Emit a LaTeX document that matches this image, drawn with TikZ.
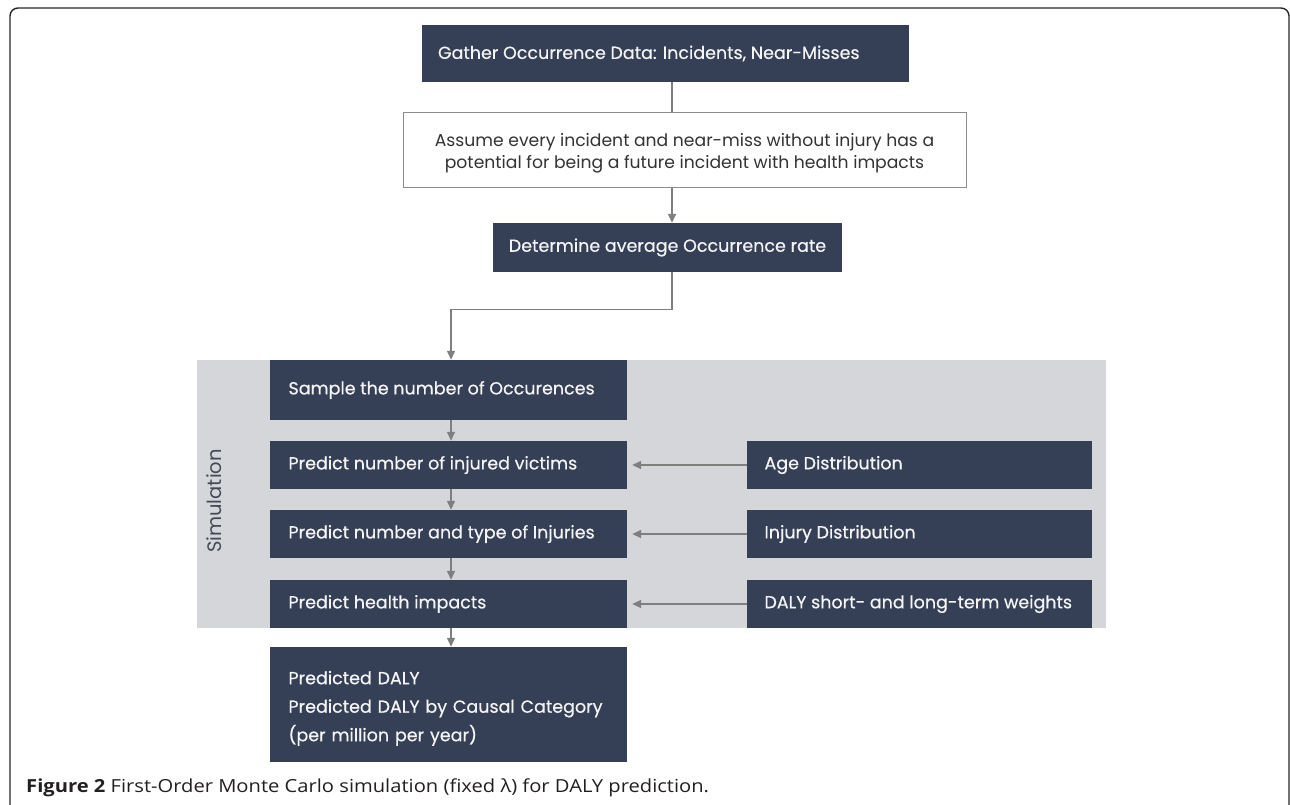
\documentclass[tikz,border=0pt]{standalone}
\usepackage{fontspec}
\setmainfont{Poppins}
\newfontfamily\boxfont{Poppins}[FakeBold=0.5]
\newfontfamily\capfont{Open Sans}
\usetikzlibrary{arrows.meta,positioning}
\definecolor{navy}{HTML}{353F55}
\definecolor{band}{HTML}{D5D6DA}
\definecolor{conn}{HTML}{7F7F7F}
\definecolor{boxtxt}{HTML}{F4F4F4}
\definecolor{simtxt}{HTML}{454A57}
\definecolor{captxt}{HTML}{231F20}
\newcommand{\lbox}[2]{\makebox[#1][l]{#2}}
\tikzset{
  dark/.style={fill=navy, draw=none, text=boxtxt, font=\boxfont\fontsize{17.5}{20}\selectfont, inner sep=0pt},
  leftbox/.style={dark, minimum width=357pt},
  rightbox/.style={dark, minimum width=345pt, minimum height=48pt},
  conn/.style={draw=conn, line width=1.4pt},
  arr/.style={conn, -{Triangle[width=8pt,length=9pt]}},
}
\begin{document}
\begin{tikzpicture}[x=1pt,y=-1pt]
\useasboundingbox (0,0) rectangle (1290,805);
% frame
\draw[line width=1.4pt, draw=black!85] (10,808) -- (10,16) arc[start angle=180,end angle=270,radius=8] -- (1281,8) arc[start angle=270,end angle=360,radius=8] -- (1289,808);
% simulation band
\fill[band] (197,360) rectangle (1106,628);
\node[rotate=90, text=simtxt, font=\fontsize{19.5}{22}\selectfont] (simlabel) at (214,501) {Simulation};
\coordinate (spine) at (672,0);
\coordinate (mid) at (451,0);
% top boxes
\node[dark, minimum width=487pt, minimum height=57pt] (gather) at (665.5,53.5) {\lbox{455pt}{Gather Occurrence Data: Incidents, Near-Misses}};
\node[draw=conn!90, line width=1pt, fill=white, minimum width=563pt, minimum height=75pt, align=center, text=black!80, inner sep=0pt, font=\fontsize{17.2}{22}\selectfont] (assume) at (684.5,150.5) {\rule{0pt}{19pt}Assume every incident and near-miss without injury has a\\potential for being a future incident with health impacts};
\node[dark, minimum width=349pt, minimum height=49pt, align=center] (determine) at (667.5,247.5) {Determine average Occurrence rate};
% left column
\node[leftbox, minimum height=60pt] (sample) at (448.5,390) {\lbox{320pt}{Sample the number of Occurences}};
\node[leftbox, minimum height=48pt] (victims) at (448.5,465) {\lbox{320pt}{Predict number of injured victims}};
\node[leftbox, minimum height=48pt] (injuries) at (448.5,534) {\lbox{320pt}{Predict number and type of Injuries}};
\node[leftbox, minimum height=48pt] (health) at (448.5,604) {\lbox{320pt}{Predict health impacts}};
\node[leftbox, minimum height=115pt, text width=320pt, align=left, font=\boxfont\fontsize{17.5}{28.5}\selectfont] (result) at (448.5,704.5) {\rule{0pt}{21pt}Predicted DALY\\Predicted DALY by Causal Category\\(per million per year)};
% right column
\node[rightbox] (age) at (919.5,465) {\lbox{310pt}{Age Distribution}};
\node[rightbox] (injdist) at (919.5,534) {\lbox{310pt}{Injury Distribution}};
\node[rightbox] (weights) at (919.5,604) {\lbox{310pt}{DALY short- and long-term weights}};
% connectors
\draw[conn] (gather.south -| spine) -- (assume.north -| spine);
\draw[arr] (assume.south -| spine) -- (determine.north -| spine);
\draw[arr] (determine.south -| spine) -- ++(0,37) -| (sample.north -| mid);
\draw[arr] (sample.south -| mid) -- (victims.north -| mid);
\draw[arr] (victims.south -| mid) -- (injuries.north -| mid);
\draw[arr] (injuries.south -| mid) -- (health.north -| mid);
\draw[arr] (health.south -| mid) -- (result.north -| mid);
\draw[arr, shorten >=5pt] (age.west) -- (victims.east);
\draw[arr, shorten >=5pt] (injdist.west) -- (injuries.east);
\draw[arr, shorten >=5pt] (weights.west) -- (health.east);
% caption
\node[anchor=base west, inner sep=0pt, text=captxt, font=\capfont\fontsize{18}{20}\selectfont] (caption) at (26,792) {\scalebox{1.12}[1]{\textbf{Figure 2} First-Order Monte Carlo simulation (fixed λ) for DALY prediction.}};
\end{tikzpicture}
\end{document}
